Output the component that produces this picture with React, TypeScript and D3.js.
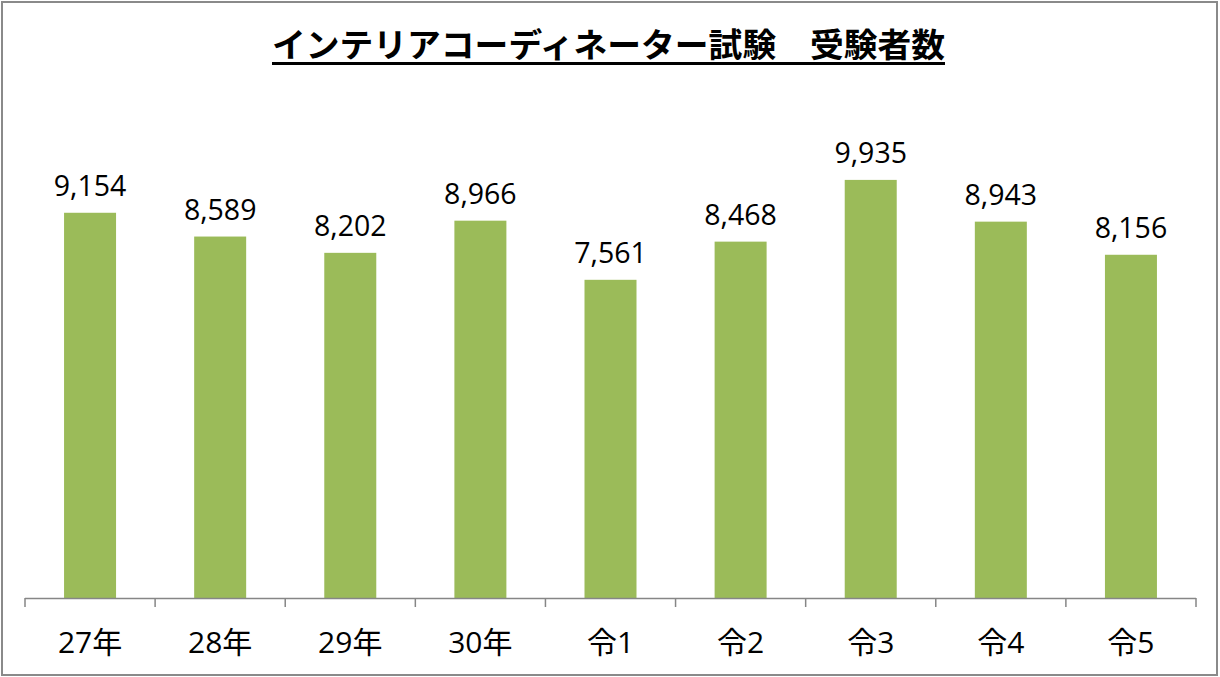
import React from "react";
import * as d3 from "d3";

const categories = ["27年", "28年", "29年", "30年", "令1", "令2", "令3", "令4", "令5"];
const values = [9154, 8589, 8202, 8966, 7561, 8468, 9935, 8943, 8156];
const title = "インテリアコーディネーター試験　受験者数";

const W = 1220;
const H = 677;

export default function App() {
  const x = d3.scaleBand<string>().domain(categories).range([25, 1196]).paddingInner(0).paddingOuter(0);
  const y = d3.scaleLinear().domain([0, 12000]).range([598, 93]);
  const barW = 52;
  const fmt = d3.format(",");
  const font = "'Open Sans', 'Noto Sans CJK JP', sans-serif";
  const titleX0 = 272;
  const titleX1 = 945;

  const tickXs = categories.map((c) => x(c)!).concat([x.range()[1]]);

  return (
    <svg
      width={W}
      height={H}
      style={{ position: "absolute", left: 0, top: 0, background: "#fff" }}
    >
      <rect x={0} y={0} width={W} height={H} fill="#fff" />
      <rect x={2} y={2} width={1215} height={673} fill="none" stroke="#8a8a8a" strokeWidth={2} />

      <text
        x={(titleX0 + titleX1) / 2}
        y={57}
        textAnchor="middle"
        fontFamily="'Noto Sans CJK JP', sans-serif"
        fontWeight="bold"
        fontSize={33.5}
        textLength={titleX1 - titleX0}
        lengthAdjust="spacingAndGlyphs"
        fill="#000"
      >
        {title}
      </text>
      <line x1={titleX0} x2={titleX1} y1={63.5} y2={63.5} stroke="#000" strokeWidth={3} />

      {categories.map((c, i) => {
        const cx = x(c)! + x.bandwidth() / 2;
        return (
          <g key={c}>
            <rect
              x={cx - barW / 2}
              y={y(values[i])}
              width={barW}
              height={y(0) - y(values[i])}
              fill="#9BBB59"
            />
            <text
              x={cx}
              y={y(values[i]) - 17}
              textAnchor="middle"
              fontFamily={font}
              fontSize={28.5}
              fill="#000"
            >
              {fmt(values[i])}
            </text>
            <text
              x={cx}
              y={653}
              textAnchor="middle"
              fontFamily={font}
              fontSize={30}
              fill="#000"
            >
              {c}
            </text>
          </g>
        );
      })}

      <line x1={25} x2={1196} y1={598.5} y2={598.5} stroke="#868686" strokeWidth={1.5} />
      {tickXs.map((tx, i) => (
        <line key={i} x1={tx} x2={tx} y1={598} y2={607} stroke="#868686" strokeWidth={1.5} />
      ))}
    </svg>
  );
}
